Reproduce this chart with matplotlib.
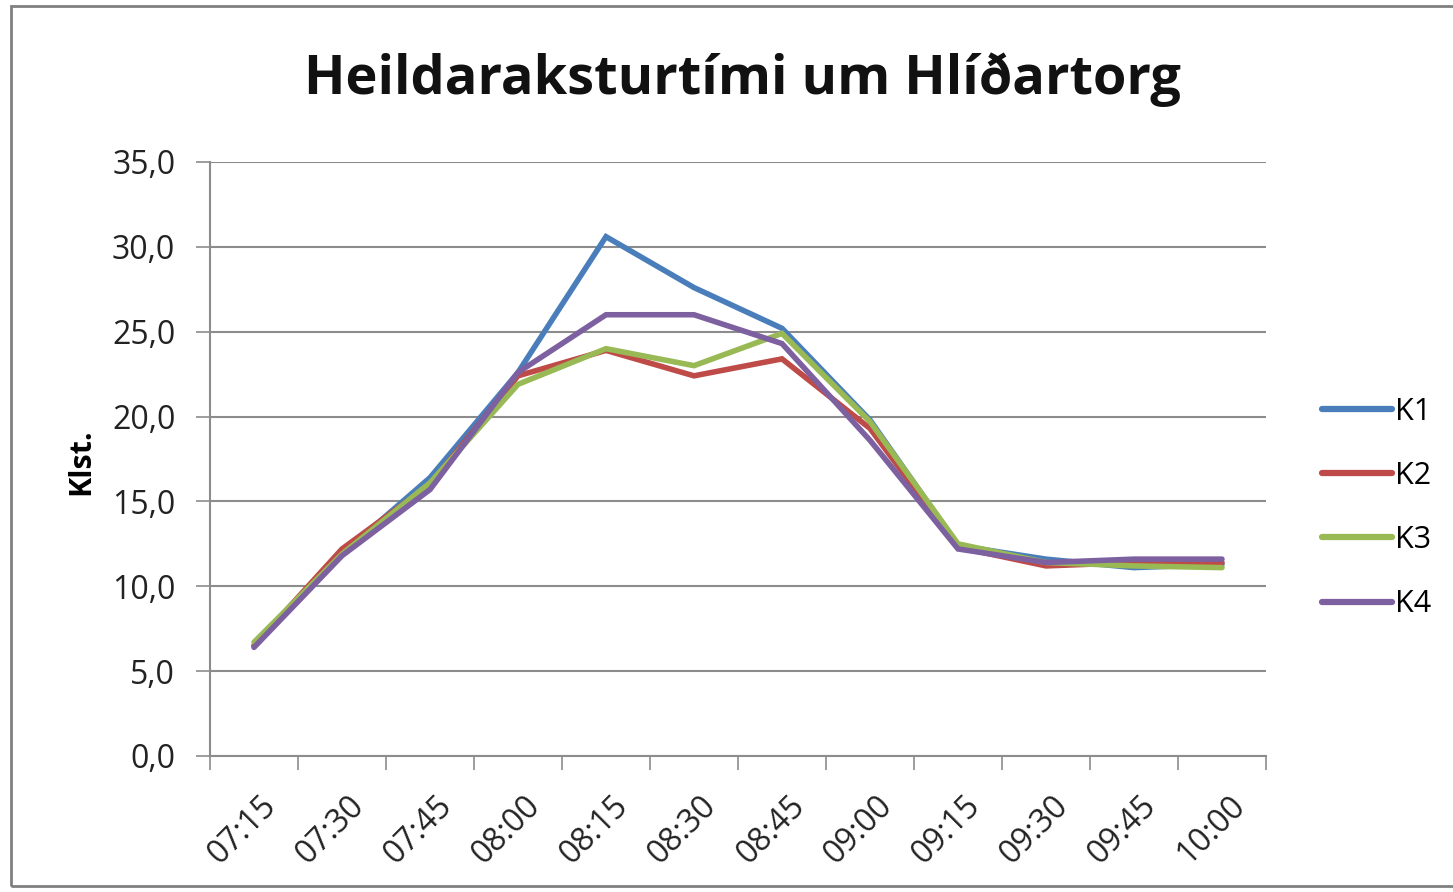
import matplotlib
matplotlib.use("Agg")
import matplotlib.pyplot as plt
import matplotlib.transforms as mtransforms
from matplotlib.patches import Rectangle
import numpy as np

times = ["07:15", "07:30", "07:45", "08:00", "08:15", "08:30",
         "08:45", "09:00", "09:15", "09:30", "09:45", "10:00"]
K1 = [6.5, 11.9, 16.4, 22.6, 30.6, 27.6, 25.2, 19.8, 12.4, 11.6, 11.1, 11.3]
K2 = [6.5, 12.2, 16.0, 22.4, 23.9, 22.4, 23.4, 19.3, 12.3, 11.2, 11.4, 11.4]
K3 = [6.7, 11.9, 16.1, 21.9, 24.0, 23.0, 24.9, 19.7, 12.5, 11.4, 11.2, 11.1]
K4 = [6.4, 11.8, 15.7, 22.6, 26.0, 26.0, 24.3, 18.6, 12.2, 11.4, 11.6, 11.6]
series_names = ["K1", "K2", "K3", "K4"]
colors = ["#4A7EBB", "#BE4B48", "#98B954", "#7D60A0"]
title = "Heildaraksturtími um Hlíðartorg"
ylabel = "Klst."

plt.rcParams['font.family'] = ['Open Sans', 'DejaVu Sans']

W, H = 1453, 892
fig = plt.figure(figsize=(W / 100, H / 100), dpi=100)
ax = fig.add_axes([210 / W, 1 - 756 / H, (1266 - 210) / W, (756 - 162) / H])

x = np.arange(len(times))
for vals, name, c in zip([K1, K2, K3, K4], series_names, colors):
    ax.plot(x, vals, color=c, lw=4.0, label=name, solid_capstyle='round',
            solid_joinstyle='miter')

ax.set_xlim(-0.5, len(times) - 0.5)
ax.set_ylim(0, 35)
yt = np.arange(0, 35.1, 5)
ax.set_yticks(yt)
ax.set_yticklabels([f"{v:.1f}".replace(".", ",") for v in yt],
                   fontsize=23, color="#222222")
ax.yaxis.grid(True, color="#8C8C8C", lw=1.5)
ax.set_axisbelow(True)

ax.set_xticks(np.arange(-0.5, len(times), 1.0))
ax.set_xticklabels([])
ax.set_xticks(x, minor=True)
ax.set_xticklabels(times, minor=True, rotation=45, ha='right', va='top',
                   rotation_mode='anchor', fontsize=23, color="#222222")
ax.tick_params(axis='x', which='major', length=10, width=1.2, color="#8C8C8C")
ax.tick_params(axis='x', which='minor', length=0, pad=24)
ax.tick_params(axis='y', length=10, width=1.2, color="#8C8C8C", pad=15)
offset = mtransforms.ScaledTranslation(6 / 100, 0, fig.dpi_scale_trans)
for lab in ax.get_xticklabels(minor=True):
    lab.set_transform(lab.get_transform() + offset)

for s in ["top", "right"]:
    ax.spines[s].set_visible(False)
for s in ["left", "bottom"]:
    ax.spines[s].set_color("#8C8C8C")
    ax.spines[s].set_linewidth(1.5)

ax.set_ylabel(ylabel, fontsize=22, fontweight='bold')
ax.yaxis.set_label_coords((96 - 210) / (1266 - 210), (756 - 462) / (756 - 162))

fig.text(742 / W, 1 - 80 / H, title, ha='center', va='center',
         fontsize=39, fontweight='bold', color="#111111")

leg = fig.legend(loc='center left', bbox_to_anchor=(1294 / W, 1 - 508 / H),
                 frameon=False, fontsize=22, handlelength=2.3,
                 handletextpad=0.1, labelspacing=1.12)
for line in leg.get_lines():
    line.set_linewidth(4.5)

fig.patches.append(Rectangle((11 / W, 1 - 886 / H), 1.2, (886 - 6) / H,
                             transform=fig.transFigure, fill=False,
                             edgecolor="#808080", lw=2))

fig.savefig("out.png", dpi=100, facecolor="white")
